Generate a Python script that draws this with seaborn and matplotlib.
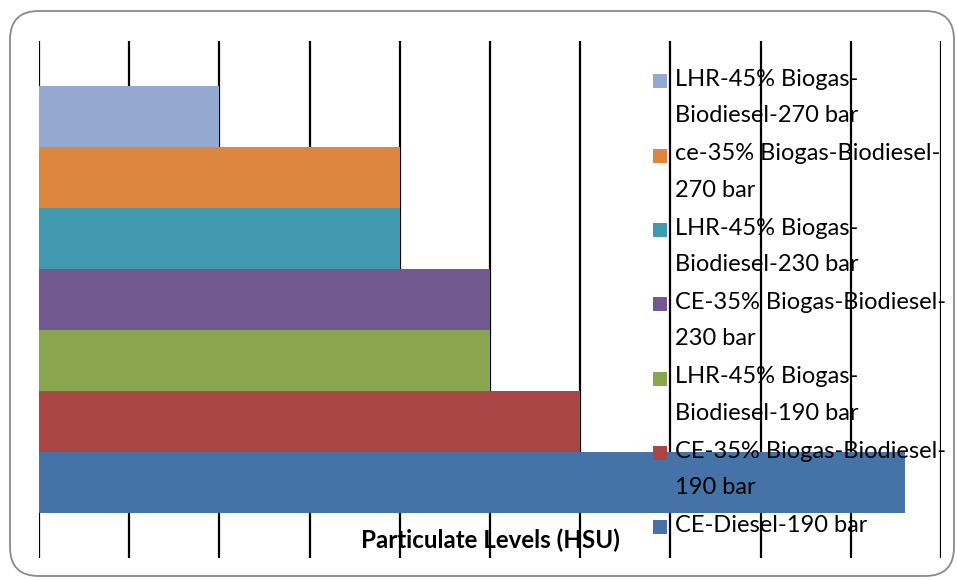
import matplotlib
matplotlib.use("Agg")
import matplotlib.pyplot as plt
from matplotlib.patches import FancyBboxPatch, Rectangle
from matplotlib.legend_handler import HandlerPatch
import seaborn as sns
import pandas as pd

# Particulate levels per engine / fuel / injection pressure configuration
series = [
    "LHR-45% Biogas-\nBiodiesel-270 bar",
    "ce-35% Biogas-Biodiesel-\n270 bar",
    "LHR-45% Biogas-\nBiodiesel-230 bar",
    "CE-35% Biogas-Biodiesel-\n230 bar",
    "LHR-45% Biogas-\nBiodiesel-190 bar",
    "CE-35% Biogas-Biodiesel-\n190 bar",
    "CE-Diesel-190 bar",
]
values = [20, 40, 40, 50, 50, 60, 96]
category = ["Particulate Levels (HSU)"] * len(series)
colors = ["#95A9D0", "#DD8640", "#4198AF", "#71588F", "#89A54E", "#AA4643", "#4572A7"]

df = pd.DataFrame({"cat": category, "series": series, "value": values})

sns.set_theme(style="white")
plt.rcParams["font.family"] = ["Lato", "DejaVu Sans"]

W, H = 957, 580
fig = plt.figure(figsize=(W / 100, H / 100), dpi=100)

# rounded chart frame
frame = FancyBboxPatch((10 / W, 4 / H), 944 / W, 565 / H,
                       boxstyle="round,pad=0,rounding_size=0.03",
                       transform=fig.transFigure, facecolor="white",
                       edgecolor="#8a8a8a", linewidth=1.3, zorder=-1,
                       mutation_aspect=W / H)
fig.patches.append(frame)

left, right, top, bottom = 39, 941, 41, 558
ax = fig.add_axes([left / W, (H - bottom) / H, (right - left) / W, (bottom - top) / H])
ax.patch.set_alpha(0)

sns.barplot(data=df, x="value", y="cat", hue="series", hue_order=series,
            palette=colors, orient="h", width=0.8, gap=0, saturation=1,
            linewidth=0, edgecolor="none", legend=False, ax=ax, zorder=3)

ax.set_xlim(0, 100)
ax.set_ylim(0.4843, -0.4843)
ax.set_xticks(range(0, 101, 10))
ax.grid(axis="x", color="black", linewidth=1.6, zorder=0)
ax.grid(axis="y", visible=False)
ax.tick_params(axis="both", length=0, labelbottom=False, labelleft=False)
for s in ax.spines.values():
    s.set_visible(False)
ax.set_ylabel("")
ax.set_xlabel("Particulate Levels (HSU)", fontsize=17.4, fontweight="bold", color="black")
ax.xaxis.set_label_coords(0.5, 0.035)
ax.xaxis.label.set_va("center")
ax.xaxis.label.set_zorder(5)

FS = 17
LS = 1.9
LINE_PT = 33 * 0.72  # distance between wrapped label lines, in points


class TopAlignedSquare(HandlerPatch):
    """Square legend key aligned with the first line of a wrapped label."""

    def create_artists(self, legend, orig_handle, xdescent, ydescent, width, height, fontsize, trans):
        nlines = self.nlines.get(id(orig_handle), 1)
        size = 14 / 100 * 72
        shift = (nlines - 1) * LINE_PT / 2
        p = Rectangle((-xdescent, -ydescent + (height - size) / 2 + shift), size, size,
                      facecolor=orig_handle.get_facecolor(), edgecolor="none", transform=trans)
        return [p]


# every legend entry takes two text rows, so single-line labels get an empty row
legend_labels = [s if "\n" in s else s + "\n " for s in series]
handles = [Rectangle((0, 0), 1, 1, facecolor=c) for c in colors]
handler = TopAlignedSquare()
handler.nlines = {id(h): lab.count("\n") + 1 for h, lab in zip(handles, legend_labels)}
leg = ax.legend(handles, legend_labels, loc="upper left", bbox_to_anchor=(653 / W, (H - 69) / H),
                bbox_transform=fig.transFigure, frameon=False, fontsize=FS,
                handlelength=0.6, handleheight=0.6, handletextpad=0.34,
                labelspacing=0.72, borderpad=0, borderaxespad=0,
                handler_map={Rectangle: handler})
leg.set_zorder(6)
for t in leg.get_texts():
    t.set_linespacing(LS)
    t.set_color("black")

fig.savefig("out.png", dpi=100)
